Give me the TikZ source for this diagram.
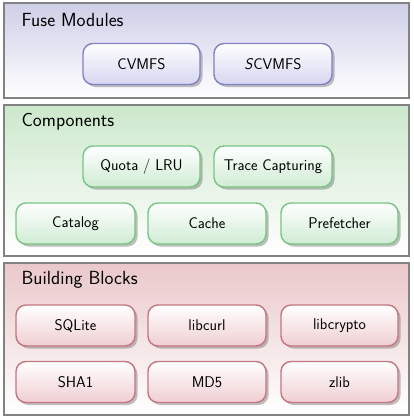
\documentclass[tikz,border=0pt]{standalone}
\usetikzlibrary{shadows}
\definecolor{bluetop}{RGB}{206,206,232}
\definecolor{blueline}{RGB}{128,128,196}
\definecolor{bluenode}{RGB}{214,214,240}
\definecolor{greentop}{RGB}{204,232,204}
\definecolor{greenline}{RGB}{120,196,132}
\definecolor{greennode}{RGB}{208,236,212}
\definecolor{redtop}{RGB}{234,200,202}
\definecolor{redline}{RGB}{196,118,128}
\definecolor{rednode}{RGB}{240,206,210}
\definecolor{panelline}{RGB}{130,130,130}
\tikzset{
  panel/.style={draw=panelline, line width=1.3pt, top color=#1, bottom color=white},
  ptitle/.style={anchor=west, font=\sffamily\fontsize{19}{22}\selectfont},
  blk/.style args={#1/#2}{draw=#1, line width=1.4pt, rounded corners=10pt,
     top color=white, bottom color=#2, minimum height=41pt,
     font=\sffamily\fontsize{15.5}{18}\selectfont, inner sep=0pt,
     drop shadow={shadow xshift=2.5pt, shadow yshift=-2.5pt, opacity=0.35, fill=black!70}},
}
\begin{document}
\begin{tikzpicture}[x=1pt,y=-1pt]
\useasboundingbox (0,0) rectangle (413,420);
% panels
\path[panel=bluetop] (4,3) rectangle (409,98);
\path[panel=greentop] (4,105) rectangle (409,256);
\path[panel=redtop] (4,263) rectangle (409,415);
\node[ptitle] (t1) at (18,20) {Fuse Modules};
\node[ptitle] (t2) at (18,122) {Components};
\node[ptitle] (t3) at (18,280) {Building Blocks};
% fuse modules
\node[blk=blueline/bluenode, minimum width=117pt] (cvmfs) at (141.5,64) {CVMFS};
\node[blk=blueline/bluenode, minimum width=118pt] (scvmfs) at (273,64) {\textsl{S}CVMFS};
% components
\node[blk=greenline/greennode, minimum width=117pt] (quota) at (141.5,166.5) {Quota / LRU};
\node[blk=greenline/greennode, minimum width=118pt] (trace) at (273,166.5) {Trace Capturing};
\node[blk=greenline/greennode, minimum width=119pt] (catalog) at (75.5,223.5) {Catalog};
\node[blk=greenline/greennode, minimum width=118pt] (cache) at (207,223.5) {Cache};
\node[blk=greenline/greennode, minimum width=117pt] (prefetch) at (339.5,223.5) {Prefetcher};
% building blocks
\node[blk=redline/rednode, minimum width=119pt] (sqlite) at (75.5,325.5) {SQLite};
\node[blk=redline/rednode, minimum width=118pt] (libcurl) at (207,325.5) {libcurl};
\node[blk=redline/rednode, minimum width=117pt] (libcrypto) at (339.5,325.5) {libcrypto};
\node[blk=redline/rednode, minimum width=119pt] (sha1) at (75.5,382) {SHA1};
\node[blk=redline/rednode, minimum width=118pt] (md5) at (207,382) {MD5};
\node[blk=redline/rednode, minimum width=117pt] (zlib) at (339.5,382) {zlib};
\end{tikzpicture}
\end{document}
